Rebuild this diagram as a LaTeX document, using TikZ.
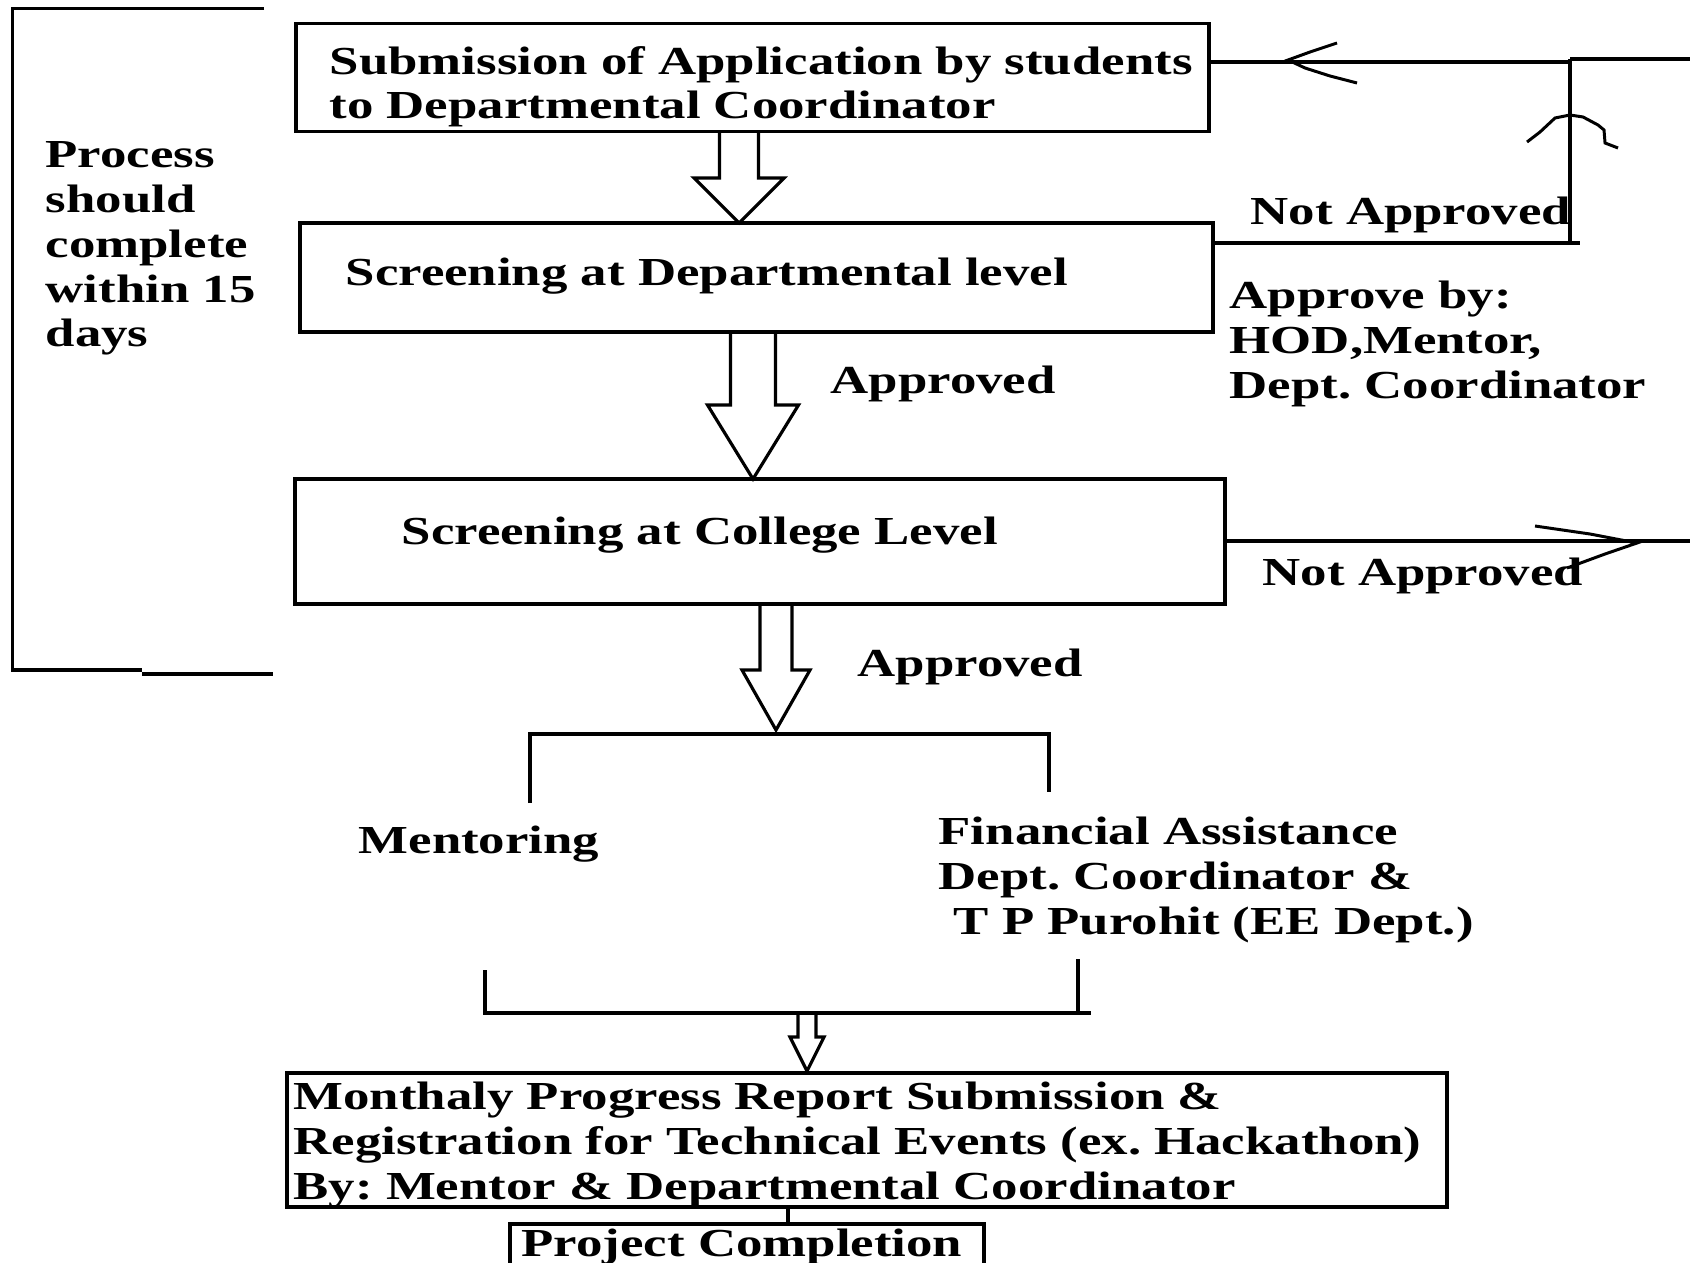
\documentclass[tikz,border=0pt]{standalone}
\usepackage{fontspec}
\setmainfont{Liberation Serif}[FakeStretch=1.33]
\frenchspacing

% hollow block arrow pointing down: x, top, neck, tip, half shaft, half head
\newcommand{\hollowdown}[6]{%
  \draw[hollow] ({#1-#5},#2) -- ({#1-#5},#3) -- ({#1-#6},#3) -- (#1,#4)
    -- ({#1+#6},#3) -- ({#1+#5},#3) -- ({#1+#5},#2);}

\begin{document}
\begin{tikzpicture}[
  every node/.style={font=\fontsize{11.3}{12.8}\selectfont\bfseries,inner sep=0pt},
  box/.style={draw,line width=0.9pt,rectangle},
  txt/.style={anchor=base west,align=left},
  hollow/.style={line width=0.9pt},
  line/.style={line width=0.9pt},
  wing/.style={line width=0.85pt}
]

  \useasboundingbox (0,0) rectangle (16.9,-12.62);
  \clip (0,0) rectangle (16.9,-12.62);

  % left bracket
  \draw[line] (2.64,-0.086) -- (0.129,-0.086) -- (0.129,-6.70) -- (1.42,-6.70);
  \draw[line] (1.42,-6.74) -- (2.73,-6.74);
  \node[txt] (days) at (0.45,-3.47) {Process\\should\\complete\\within 15\\days};

  % boxes
  \node[box,minimum width=9.13cm,minimum height=1.078cm] (submit) at (7.525,-0.776) {};
  \node[box,minimum width=9.13cm,minimum height=1.09cm] (deptscr) at (7.565,-2.775) {};
  \node[box,minimum width=9.30cm,minimum height=1.25cm] (collscr) at (7.60,-5.415) {};
  \node[box,minimum width=11.60cm,minimum height=1.34cm] (report) at (8.67,-11.40) {};
  \node[box,minimum width=4.74cm,minimum height=0.60cm] (finish) at (7.47,-12.54) {};

  \node[txt] (submittxt) at (3.29,-1.19) {Submission of Application by students\\to Departmental Coordinator};
  \node[txt] (depttxt) at (3.45,-2.86) {Screening at Departmental level};
  \node[txt] (colltxt) at (4.01,-5.44) {Screening at College Level};
  \node[txt] (reporttxt) at (2.93,-11.99) {Monthaly Progress Report Submission \&\\Registration for Technical Events (ex. Hackathon)\\By: Mentor \& Departmental Coordinator};
  \node[txt] (finishtxt) at (5.21,-12.56) {Project Completion};

  % block arrows
  \hollowdown{7.39}{-1.315}{-1.78}{-2.23}{0.195}{0.45}
  \hollowdown{7.53}{-3.32}{-4.05}{-4.79}{0.225}{0.455}
  \hollowdown{7.76}{-6.04}{-6.70}{-7.30}{0.16}{0.34}
  \hollowdown{8.07}{-10.13}{-10.37}{-10.71}{0.09}{0.17}

  \node[txt] (ok1) at (8.30,-3.93) {Approved};
  \node[txt] (ok2) at (8.57,-6.76) {Approved};

  % split and merge
  \draw[line] (5.30,-8.03) -- (5.30,-7.34) -- (10.49,-7.34) -- (10.49,-7.92);
  \node[txt] (mentor) at (3.58,-8.53) {Mentoring};
  \node[txt] (fund) at (9.38,-9.34) {Financial Assistance\\Dept. Coordinator \&\\\hspace*{1.5mm}T P Purohit (EE Dept.)};
  \draw[line] (4.85,-9.70) -- (4.85,-10.13) -- (10.91,-10.13);
  \draw[line] (10.78,-9.59) -- (10.78,-10.13);

  \coordinate (mid) at (7.88,0);
  \draw[line] (report.south -| mid) -- (finish.north -| mid);

  % not approved at departmental level
  \coordinate (back1) at (15.70,-0.62);
  \coordinate (back2) at (15.70,-2.43);
  \draw[line] (submit.east |- back1) -- (back1);
  \draw[line,line width=1.1pt] (15.70,-0.59) -- (back2);
  \draw[line] (back1 |- 0,-0.59) -- (16.9,-0.59);
  \draw[line] (deptscr.east |- back2) -- (15.80,-2.43);
  \draw[wing] (13.37,-0.43) -- (13.10,-0.52) -- (12.88,-0.60) -- (13.05,-0.68) -- (13.30,-0.76) -- (13.57,-0.83);
  \draw[wing] (15.27,-1.42) -- (15.40,-1.32) -- (15.55,-1.18) -- (15.70,-1.15) -- (15.83,-1.17)
    -- (15.98,-1.25) -- (16.04,-1.30) -- (16.05,-1.43) -- (16.18,-1.48);
  \node[txt] (no1) at (12.50,-2.25) {Not Approved};
  \node[txt] (whoapp) at (12.29,-3.98) {Approve by:\\HOD,Mentor,\\Dept. Coordinator};

  % not approved at college level
  \draw[line] (collscr.east |- 0,-5.41) -- (16.9,-5.41);
  \draw[wing] (15.35,-5.26) -- (15.90,-5.34) -- (16.37,-5.43) -- (16.05,-5.54) -- (15.67,-5.68);
  \node[txt] (no2) at (12.62,-5.85) {Not Approved};

\end{tikzpicture}
\end{document}
